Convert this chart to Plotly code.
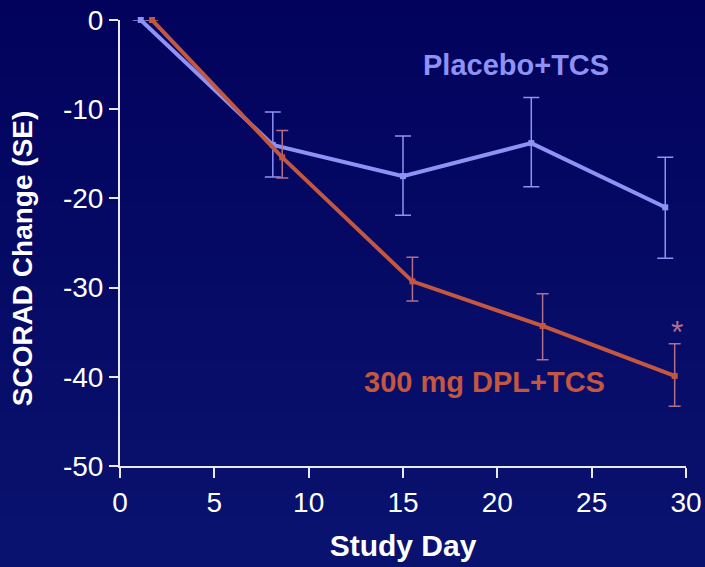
import plotly.graph_objects as go

# Data
placebo_day = [1.1, 8.1, 15.0, 21.8, 28.9]
placebo_mean = [0.0, -14.0, -17.5, -13.8, -21.0]
placebo_err_plus = [0.0, 3.7, 4.5, 5.1, 5.6]
placebo_err_minus = [0.0, 3.6, 4.4, 4.9, 5.7]

dpl_day = [1.7, 8.6, 15.5, 22.4, 29.4]
dpl_mean = [0.0, -15.4, -29.3, -34.3, -39.9]
dpl_err_plus = [0.0, 3.0, 2.7, 3.6, 3.6]
dpl_err_minus = [0.0, 2.3, 2.2, 3.8, 3.4]

x_ticks = [0, 5, 10, 15, 20, 25, 30]
x_labels = ["0", "5", "10", "15", "20", "25", "30"]
y_ticks = [0, -10, -20, -30, -40, -50]
y_labels = ["0", "-10", "-20", "-30", "-40", "-50"]

blue = "#8e92f5"
red = "#c4573f"
red_err = "#b0708a"
font_fam = "Liberation Sans, Arial"

fig = go.Figure()
fig.add_trace(go.Scatter(
    x=placebo_day, y=placebo_mean, mode="lines+markers",
    line=dict(color=blue, width=4),
    marker=dict(symbol="square", size=6, color=blue),
    error_y=dict(type="data", symmetric=False, array=placebo_err_plus,
                 arrayminus=placebo_err_minus, color=blue, thickness=1.5, width=8),
    cliponaxis=False, showlegend=False))
fig.add_trace(go.Scatter(
    x=dpl_day, y=dpl_mean, mode="lines+markers",
    line=dict(color=red, width=4),
    marker=dict(symbol="square", size=6, color=red),
    error_y=dict(type="data", symmetric=False, array=dpl_err_plus,
                 arrayminus=dpl_err_minus, color=red_err, thickness=1.5, width=6),
    cliponaxis=False, showlegend=False))

# background gradient bands
shapes = []
n = 24
top = (0x02, 0x02, 0x5c)
bot = (0x0a, 0x14, 0x70)
for i in range(n):
    t = i / (n - 1)
    c = tuple(int(top[k] + (bot[k] - top[k]) * t) for k in range(3))
    shapes.append(dict(type="rect", xref="paper", yref="paper", layer="below",
                       x0=-1, x1=2, y0=1.1 - (i + 1) * (1.4 / n), y1=1.1 - i * (1.4 / n) + 0.01,
                       line=dict(width=0), fillcolor="rgb(%d,%d,%d)" % c))

fig.update_layout(
    width=705, height=567,
    margin=dict(l=120, r=19, t=20, b=101),
    paper_bgcolor="#04066a", plot_bgcolor="rgba(0,0,0,0)",
    shapes=shapes,
    font=dict(family=font_fam, color="white"),
    xaxis=dict(range=[0, 30], tickvals=x_ticks, ticktext=x_labels, automargin=False,
               showgrid=False, zeroline=False,
               showline=True, linecolor="#e8e8f0", linewidth=2,
               ticks="outside", ticklen=10, tickwidth=2, tickcolor="#e8e8f0",
               tickfont=dict(size=28, family=font_fam, color="white"),
               title=dict(text="<b>Study Day</b>", standoff=18,
                          font=dict(size=30, family=font_fam, color="white"))),
    yaxis=dict(range=[-50, 0], tickvals=y_ticks, ticktext=y_labels, automargin=False,
               showgrid=False, zeroline=False,
               showline=True, linecolor="#e8e8f0", linewidth=2,
               ticks="outside", ticklen=9, tickwidth=2, tickcolor="#e8e8f0",
               tickfont=dict(size=28, family=font_fam, color="white")),
    annotations=[
        dict(x=-0.173, y=0.466, xref="paper", yref="paper", text="<b>SCORAD Change (SE)</b>",
             textangle=-90, showarrow=False, xanchor="center", yanchor="middle",
             font=dict(size=28, color="white", family=font_fam)),
        dict(x=21.0, y=-5.1, xref="x", yref="y", text="<b>Placebo+TCS</b>",
             showarrow=False, font=dict(size=29, color=blue, family=font_fam)),
        dict(x=19.3, y=-40.6, xref="x", yref="y", text="<b>300 mg DPL+TCS</b>",
             showarrow=False, font=dict(size=29, color=red, family=font_fam)),
        dict(x=29.5, y=-35.0, xref="x", yref="y", text="*",
             showarrow=False, font=dict(size=32, color=red_err, family=font_fam)),
    ],
)

fig.write_html("out.html", config={"displayModeBar": False},
               post_script="document.body.style.margin='0';document.body.style.background='#04066a';")
